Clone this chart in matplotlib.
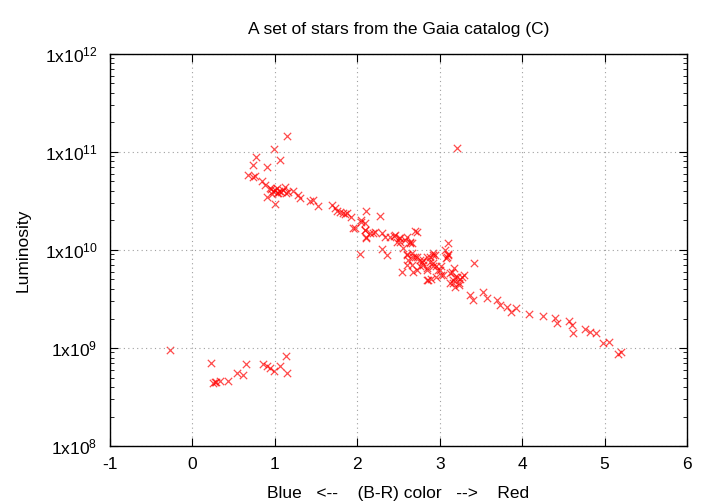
import numpy as np
import matplotlib
matplotlib.use("Agg")
import matplotlib.pyplot as plt
from matplotlib.ticker import FixedLocator, FuncFormatter, LogLocator, NullFormatter

plt.rcParams['font.family'] = ['Liberation Sans', 'DejaVu Sans']
plt.rcParams['mathtext.fontset'] = 'custom'
plt.rcParams['mathtext.rm'] = 'Liberation Sans'
plt.rcParams['axes.unicode_minus'] = False

# (B-R) colour and luminosity
bright_color = [1.15, 0.99, 0.77, 0.74, 0.91, 1.06, 0.68, 0.76, 0.74, 0.84, 0.88,
                0.95, 0.98, 1.00, 1.02, 1.05, 1.08, 1.10, 1.13, 1.16, 0.97, 1.03,
                0.90, 1.00, 1.22, 1.28, 1.30, 1.43, 1.46, 1.52, 1.69, 1.73, 1.75,
                1.83, 1.85, 1.92, 2.11, 2.28, 2.05, 1.95, 2.09, 2.70, 3.21,
                0.94, 1.04, 1.12, 1.79, 1.87, 1.97, 2.05]
bright_lum = [1.46e11, 1.07e11, 8.8e10, 7.4e10, 7.1e10, 8.3e10, 5.8e10, 5.7e10, 5.5e10,
              5.0e10, 4.6e10, 4.2e10, 4.0e10, 4.1e10, 3.8e10, 4.0e10, 3.9e10, 4.1e10,
              3.8e10, 3.9e10, 3.7e10, 4.3e10, 3.5e10, 2.95e10, 4.0e10, 3.6e10, 3.4e10,
              3.16e10, 3.24e10, 2.8e10, 2.9e10, 2.7e10, 2.5e10, 2.4e10, 2.35e10, 2.15e10,
              2.5e10, 2.2e10, 2.04e10, 1.66e10, 1.9e10, 1.56e10, 1.1e11,
              4.27e10, 3.8e10, 4.4e10, 2.46e10, 2.37e10, 1.66e10, 1.95e10]

mid_color = [2.09, 2.15, 2.22, 2.30, 2.34, 2.40, 2.46, 2.52, 2.58, 2.64, 2.48, 2.11,
             2.30, 2.36, 2.56, 2.60, 2.62, 2.68, 2.76, 2.80, 2.84, 2.88, 2.92, 2.94,
             2.98, 3.02, 2.84, 2.90, 3.12, 3.16, 3.19, 3.25, 2.54, 2.72, 2.66, 2.80,
             2.88, 2.92, 3.00, 3.04, 2.86, 2.96, 3.15, 3.21, 3.27, 3.16, 3.23, 3.10,
             2.76, 3.10, 3.06, 3.08, 3.41, 2.03, 2.72,
             2.19, 2.44, 2.50, 2.52, 2.60, 2.64, 2.60, 2.66, 2.72, 2.84, 2.92, 3.10,
             2.09, 2.11, 2.66, 2.70, 2.78, 2.92, 2.60, 2.68, 2.84, 2.96, 3.02, 3.17,
             3.19, 3.23, 3.29, 3.13, 3.09]
mid_lum = [1.60e10, 1.48e10, 1.54e10, 1.48e10, 1.37e10, 1.37e10, 1.42e10, 1.32e10,
           1.26e10, 1.22e10, 1.22e10, 1.32e10, 1.02e10, 8.9e9, 1.04e10, 9.2e9, 7.9e9,
           8.5e9, 7.9e9, 7.0e9, 6.25e9, 7.6e9, 6.8e9, 8.9e9, 6.25e9, 5.6e9, 4.9e9,
           5.1e9, 5.8e9, 4.9e9, 4.2e9, 5.1e9, 6.0e9, 6.25e9, 7.0e9, 7.9e9, 8.5e9,
           7.3e9, 6.25e9, 5.6e9, 4.9e9, 5.3e9, 6.0e9, 5.3e9, 5.3e9, 4.6e9, 4.4e9,
           9.2e9, 6.8e9, 1.17e10, 1.0e10, 8.2e9, 7.3e9, 9.2e9, 1.54e10,
           1.48e10, 1.39e10, 1.32e10, 1.22e10, 1.37e10, 1.17e10, 8.9e9, 9.25e9,
           8.55e9, 8.55e9, 8.9e9, 8.9e9, 1.6e10, 1.37e10, 1.17e10, 8.55e9, 7.6e9,
           9.25e9, 7.0e9, 6.0e9, 6.5e9, 6.8e9, 6.8e9, 6.5e9, 5.35e9, 4.6e9, 5.6e9,
           4.6e9, 8.55e9]

red_color = [3.37, 3.53, 3.69, 3.57, 3.40, 3.73, 3.81, 3.93, 3.87, 4.08, 4.25, 4.40,
             4.42, 4.57, 4.61, 4.62, 4.76, 4.82, 4.89, 4.98, 5.05, 5.16, 5.20]
red_lum = [3.5e9, 3.7e9, 3.1e9, 3.2e9, 3.1e9, 2.75e9, 2.64e9, 2.56e9, 2.35e9, 2.22e9,
           2.12e9, 2.01e9, 1.81e9, 1.89e9, 1.72e9, 1.43e9, 1.55e9, 1.47e9, 1.41e9,
           1.12e9, 1.16e9, 8.6e8, 9.1e8]

faint_color = [-0.27, 0.22, 0.25, 0.27, 0.29, 0.33, 0.43, 0.54, 0.61, 0.65, 0.86,
               0.91, 0.94, 0.99, 1.06, 1.13, 1.15]
faint_lum = [9.6e8, 7.0e8, 4.4e8, 4.5e8, 4.5e8, 4.6e8, 4.6e8, 5.5e8, 5.3e8, 6.9e8,
             6.9e8, 6.5e8, 6.2e8, 5.8e8, 6.6e8, 8.3e8, 5.6e8]

color = np.array(bright_color + mid_color + red_color + faint_color)
lum = np.array(bright_lum + mid_lum + red_lum + faint_lum)

fig = plt.figure(figsize=(7.2, 5.04), dpi=100)
ax = fig.add_axes([0.1528, 0.115, 0.8014, 0.778])

ax.scatter(color, lum, marker='x', s=28, c='red', linewidths=0.9, alpha=0.7)

ax.set_yscale('log')
ax.set_xlim(-1, 6)
ax.set_ylim(1e8, 1e12)
ax.xaxis.set_major_locator(FixedLocator(range(-1, 7)))
ax.yaxis.set_major_locator(FixedLocator([1e8, 1e9, 1e10, 1e11, 1e12]))
ax.yaxis.set_minor_locator(LogLocator(base=10, subs=np.arange(2, 10)))
ax.yaxis.set_minor_formatter(NullFormatter())
ax.yaxis.set_major_formatter(
    FuncFormatter(lambda v, p: r'$\mathregular{1x10^{%d}}$' % round(np.log10(v))))

ax.tick_params(which='both', direction='in', top=True, right=True, labelsize=12.5)
ax.tick_params(which='major', length=6, width=0.8)
ax.tick_params(which='minor', length=3, width=0.6)
ax.tick_params(axis='x', pad=8)
ax.tick_params(axis='y', pad=9)
ax.grid(True, which='major', linestyle=(0, (1, 3)), color='#a0a0a0', linewidth=0.8)
for s in ax.spines.values():
    s.set_linewidth(1.0)

ax.set_title('A set of stars from the Gaia catalog (C)', fontsize=12.5, pad=14)
ax.set_xlabel('Blue   <--    (B-R) color   -->    Red', fontsize=12.5, labelpad=10)
ax.set_ylabel('Luminosity', fontsize=12.5, labelpad=10)

fig.savefig('out.png', dpi=100)
